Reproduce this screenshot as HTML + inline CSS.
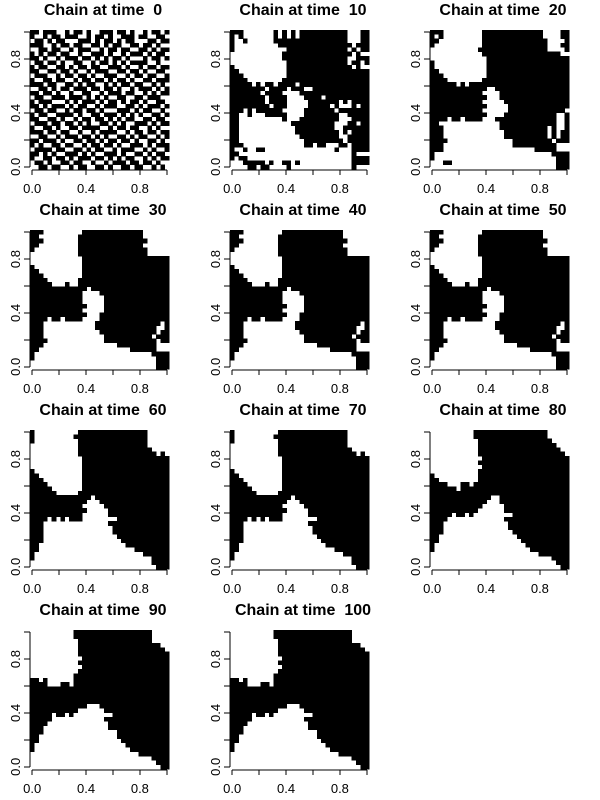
<!DOCTYPE html>
<html><head><meta charset="utf-8"><style>
html,body{margin:0;padding:0;background:#fff}
svg{display:block}
text{font-family:"Liberation Sans",Arial,sans-serif}
</style></head><body>
<svg id="c" width="600" height="800" viewBox="0 0 600 800" shape-rendering="crispEdges"></svg>
<script>
const times=[0,10,20,30,40,50,60,70,80,90,100];
const xTicks=[0,0.2,0.4,0.6,0.8,1];
const tickLabels=["0.0","","0.4","","0.8",""];
const grid0=[
"11011100101101001110110100101101","10010110111001011010011101100110","01101011000111010110101100011011","11100101101100110101100110110100",
"00110110010111001011011001101011","10101101100100111010010111010110","11010010111011010101101000101101","01101101001100101101010111100100",
"10110011010110110011101001011011","11001101101001011100110110100110","01110010110110100111001011011001","10011011001011011010110100110111",
"11101100110101100101011011001010","00110101101110110110100101110101","11011010010011001011101100101011","01100111011101010100110011011100",
"10111000101011101011010110100110","11010111010110010111001101011101","01101100101101101000111010110010","10110011110100110111010101001101",
"11001101001011011010101100110110","01110110110101001101010011101011","10011010011011110010110110010100","11101101100100101111001011011011",
"00110010111011010100110101100101","11011101001101101011011010011010","10100110110010110110100111010111","01111011001101011001011100101001",
"11010100111010100111010011010110","10011011010111011010101100101011","01101001101100100101110110110100","00110110010110011010011011001010"];
const grid10=[[3,7,1,1,1,1,1,1,11,3,3],[1,1,1,7,1,1,1,1,1,1,11,3,3],[1,2,1,6,17,3,2],[1,10,17,1,3],[1,12,14,1,1,1,2],[0,12,16,1,1,2],[0,12,15,2,3],[0,13,14,1,2,1,1],[1,12,15,1,1,2],[2,11,19],[3,10,19],[4,8,20],[5,1,1,1,2,1,4,1,16],[8,1,4,1,3,2,13],[7,1,4,4,16],[8,1,4,4,4,1,10],[8,1,4,5,7,1,1,1,4],[9,1,3,5,5,1,1,3,1,1,2],[3,1,1,1,6,5,7,1,7],[2,2,1,3,5,4,8,2,5],[2,10,1,3,9,3,4],[2,12,10,3,2,1,2],[2,13,9,2,6],[2,13,10,1,1,1,4],[2,14,9,2,5],[2,15,9,1,5],[3,14,2,1,2,3,2,1,4],[1,2,1,2,2,16,1,3,4],[2,26,1,3],[1,1,2,24,4],[0,3,5,1,1,2,2,1,1,12,4],[0,4,2,1,2,4,1,14,1,3]];
const grid20=[[3,9,14,4,2],[1,1,1,9,14,4,2],[2,10,15,4,1],[1,11,15,3,2],[0,11,16,4,1],[0,12,18,2],[0,13,19],[1,12,19],[1,12,19],[2,11,19],[3,10,19],[4,8,20],[6,1,1,1,23],[13,2,17],[12,4,16],[13,3,16],[12,5,15],[13,5,14],[12,6,13,1],[13,4,12,2,1],[4,1,2,1,4,3,14,2,1],[2,14,13,2,1],[3,13,11,1,1,2,1],[3,14,10,1,1,1,2],[3,14,10,1,1,1,2],[4,15,9,1,3],[3,16,10,3],[3,21,5,3],[1,27,4],[1,28,3],[0,3,2,24,3],[0,29,3]];
const grid30=[[3,9,14,6],[2,9,15,6],[3,8,16,5],[2,9,15,6],[1,10,16,5],[0,11,16,5],[0,12,20],[0,12,20],[1,11,20],[2,10,20],[3,9,20],[4,7,21],[5,3,1,2,21],[13,1,18],[12,4,16],[12,5,15],[12,5,15],[13,4,15],[12,5,15],[13,3,16],[4,1,2,1,4,4,16],[3,12,15,1,1],[3,12,14,2,1],[3,13,13,1,2],[3,14,11,1,3],[4,13,12,1,2],[3,17,9,3],[2,21,6,3],[1,27,4],[1,28,3],[0,29,3],[0,29,3]];
const grid40=grid30.map(r=>r.slice());
const grid50=grid30.map(r=>r.slice());
const grid60=[[1,10,16,5],[1,9,17,5],[1,10,16,5],[0,11,16,5],[0,11,17,4],[0,11,18,1,1,1],[0,12,20],[0,12,20],[0,12,20],[1,11,20],[2,10,20],[3,9,20],[4,8,20],[5,7,20],[6,5,21],[14,1,17],[13,3,16],[12,5,15],[13,5,14],[12,6,14],[4,1,1,1,1,1,3,8,12],[3,15,14],[3,16,13],[3,16,13],[3,17,12],[3,18,11],[2,20,10],[2,22,8],[1,25,6],[1,27,4],[0,28,4],[0,29,3]];
const grid70=grid60.map(r=>r.slice());
const grid80=[[0,10,17,5],[0,10,17,5],[0,11,17,4],[0,11,18,3],[0,11,19,2],[0,11,20,1],[0,12,20],[0,11,21],[0,12,20],[0,11,21],[1,10,21],[2,9,21],[4,3,2,1,22],[6,1,25],[32],[14,2,16],[13,3,16],[12,5,15],[11,6,15],[5,1,2,1,1,9,13],[4,13,15],[3,15,14],[3,15,14],[3,16,13],[2,18,12],[2,19,11],[1,21,10],[1,22,9],[0,25,7],[0,28,4],[0,29,3],[0,30,2]];
const grid90=[[0,10,18,4],[0,10,18,4],[0,11,17,4],[0,11,19,2],[0,11,20,1],[0,11,21],[0,12,20],[0,11,21],[0,12,20],[0,11,21],[0,10,22],[2,1,1,6,22],[4,3,2,1,22],[32],[32],[32],[32],[13,3,16],[11,6,15],[5,1,2,1,1,9,13],[5,12,15],[4,14,14],[3,15,14],[3,17,12],[2,18,12],[2,19,11],[1,21,10],[1,22,9],[0,25,7],[0,28,4],[0,29,3],[0,30,2]];
const grid100=grid90.map(r=>r.slice());
const grids=[grid0,grid10,grid20,grid30,grid40,grid50,grid60,grid70,grid80,grid90,grid100];

const NS="http://www.w3.org/2000/svg";
const svg=document.getElementById('c');
function mk(tag,attrs,parent){const e=document.createElementNS(NS,tag);for(const k in attrs)e.setAttribute(k,attrs[k]);(parent||svg).appendChild(e);return e;}
function toRuns(row){
  if(Array.isArray(row))return row;
  const runs=[];let cur='1',n=0;
  for(const ch of row){if(ch===cur)n++;else{runs.push(n);cur=ch;n=1;}}
  runs.push(n);return runs;
}
const N=32;
times.forEach((t,i)=>{
  const ox=(i%3)*200, oy=Math.floor(i/3)*200;
  const L=ox+30,R=ox+169,T=oy+30,B=oy+169;
  const cw=(R-L)/N;
  const sx=v=>L+(v+1/(2*(N-1)))*((R-L)/(1+1/(N-1)));
  const sy=v=>B-(v+1/(2*(N-1)))*((B-T)/(1+1/(N-1)));
  const g=mk('g',{});
  
  
  const title=mk('text',{x:ox+103,y:oy+15,'text-anchor':'middle','font-size':'16','font-weight':'bold'},g);
  
  
  title.setAttribute('xml:space','preserve');
  title.style.whiteSpace='pre';
  title.textContent='Chain at time  '+t;
  const img=mk('g',{},g);
  
  
  grids[i].forEach((row,r)=>{
    const runs=toRuns(row);let c=0;
    runs.forEach((len,k)=>{
      const w=Math.min(len,N-c);
      if(k%2===0&&w>0){
        const rc=mk('rect',{x:(L+c*cw).toFixed(2),y:(T+r*cw).toFixed(2),width:(w*cw+0.3).toFixed(2),height:(cw+0.3).toFixed(2),fill:'#000'},img);
        
        
      }
      c+=len;
    });
  });
  const xa=mk('g',{stroke:'#000','stroke-width':'1'},g);
  
  
  mk('line',{x1:sx(0),x2:sx(1),y1:B+1,y2:B+1},xa);
  const ya=mk('g',{stroke:'#000','stroke-width':'1'},g);
  
  
  mk('line',{x1:L,x2:L,y1:sy(0),y2:sy(1)},ya);
  xTicks.forEach((v,k)=>{
    mk('line',{x1:sx(v),x2:sx(v),y1:B+1,y2:B+6},xa);
    mk('line',{x1:L,x2:L-6,y1:sy(v),y2:sy(v)},ya);
    if(tickLabels[k]){
      const tx=mk('text',{x:sx(v),y:oy+193,'text-anchor':'middle','font-size':'13',fill:'#000',stroke:'none'},g);
      
      
      tx.textContent=tickLabels[k];
      const yy=sy(v);
      const ty=mk('text',{x:ox+20,y:yy,'text-anchor':'middle','font-size':'13',fill:'#000',transform:'rotate(-90 '+(ox+20)+' '+yy+')'},g);
      
      
      ty.textContent=tickLabels[k];
    }
  });
});
</script>
</body></html>
